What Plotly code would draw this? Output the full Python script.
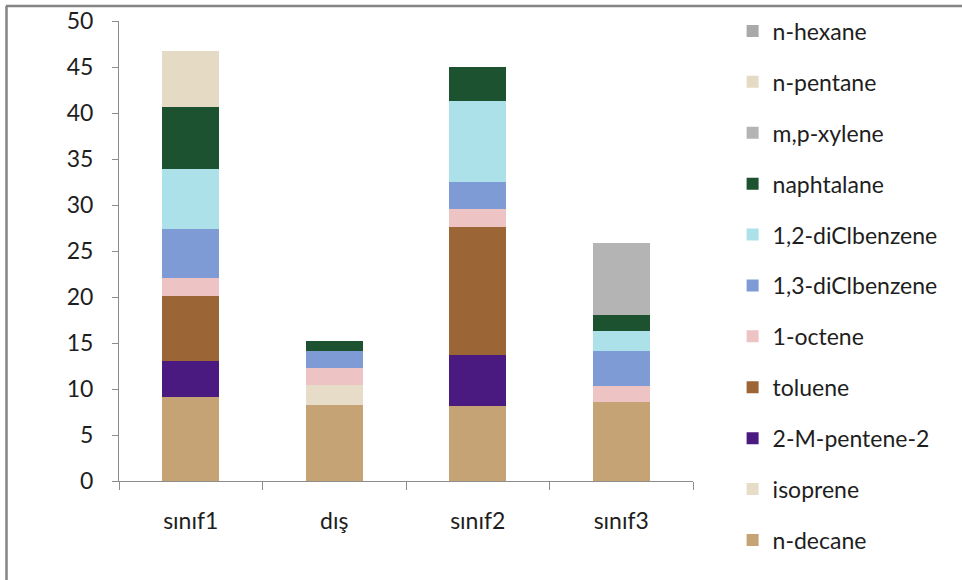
import plotly.graph_objects as go

# Sampling sites
categories = ["sınıf1", "dış", "sınıf2", "sınıf3"]

# Stacked compounds, bottom of the stack first
n_decane = [9.1, 8.3, 8.15, 8.55]
isoprene = [0, 2.1, 0, 0]
m2_pentene2 = [3.9, 0, 5.55, 0]
toluene = [7.1, 0, 13.9, 0]
octene_1 = [2.0, 1.9, 2.0, 1.8]
diclbenzene_13 = [5.3, 1.8, 2.9, 3.75]
diclbenzene_12 = [6.5, 0, 8.8, 2.2]
naphtalane = [6.7, 1.15, 3.7, 1.7]
mp_xylene = [0, 0, 0, 7.9]
n_pentane = [6.1, 0, 0, 0]
n_hexane = [0, 0, 0, 0]

series = [
    ("n-decane", n_decane, "#c6a375"),
    ("isoprene", isoprene, "#e6dcc7"),
    ("2-M-pentene-2", m2_pentene2, "#4a1a80"),
    ("toluene", toluene, "#9b6535"),
    ("1-octene", octene_1, "#eec3c3"),
    ("1,3-diClbenzene", diclbenzene_13, "#7f9bd5"),
    ("1,2-diClbenzene", diclbenzene_12, "#ace1ea"),
    ("naphtalane", naphtalane, "#1d5230"),
    ("m,p-xylene", mp_xylene, "#b4b4b4"),
    ("n-pentane", n_pentane, "#e5dbc5"),
    ("n-hexane", n_hexane, "#a9a9ab"),
]

font_family = "Lato, 'Open Sans', sans-serif"

fig = go.Figure()
for i, (name, vals, color) in enumerate(series):
    fig.add_trace(go.Bar(
        x=categories,
        y=vals,
        name=name,
        legendgroup=f"g{i}",
        legendrank=100 - i,  # top of the stack listed first
        marker=dict(color=color, line=dict(width=0)),
        width=0.4,
    ))

fig.update_layout(
    barmode="stack",
    width=962,
    height=580,
    paper_bgcolor="white",
    plot_bgcolor="white",
    margin=dict(l=119, r=269, t=21, b=99, autoexpand=False),
    font=dict(family=font_family, size=23, color="#1e1e1e"),
    showlegend=True,
    legend=dict(
        traceorder="grouped",
        tracegroupgap=18,
        x=1.069,
        xanchor="left",
        y=1.025,
        yanchor="top",
        maxheight=1.0,
        font=dict(size=23, color="#1e1e1e"),
        bgcolor="rgba(0,0,0,0)",
        itemwidth=30,
    ),
    xaxis=dict(
        type="category",
        showline=True,
        linecolor="#8c8c8c",
        linewidth=1,
        ticks="outside",
        tickson="boundaries",
        ticklen=8,
        tickcolor="#8c8c8c",
        ticklabelstandoff=19,
        showgrid=False,
        zeroline=False,
    ),
    yaxis=dict(
        range=[0, 50],
        dtick=5,
        showline=True,
        linecolor="#8c8c8c",
        linewidth=1,
        ticks="outside",
        ticklen=6,
        tickcolor="#8c8c8c",
        ticklabelstandoff=14,
        showgrid=False,
        zeroline=False,
    ),
    shapes=[
        # chart frame: top and left edges
        dict(type="line", xref="paper", yref="paper",
             x0=-0.197, x1=1.47, y0=1.0326, y1=1.0326,
             line=dict(color="#858585", width=2.5)),
        dict(type="line", xref="paper", yref="paper",
             x0=-0.196, x1=-0.196, y0=1.0326, y1=-0.22,
             line=dict(color="#858585", width=2.5)),
    ],
)

fig.write_html("out.html")
